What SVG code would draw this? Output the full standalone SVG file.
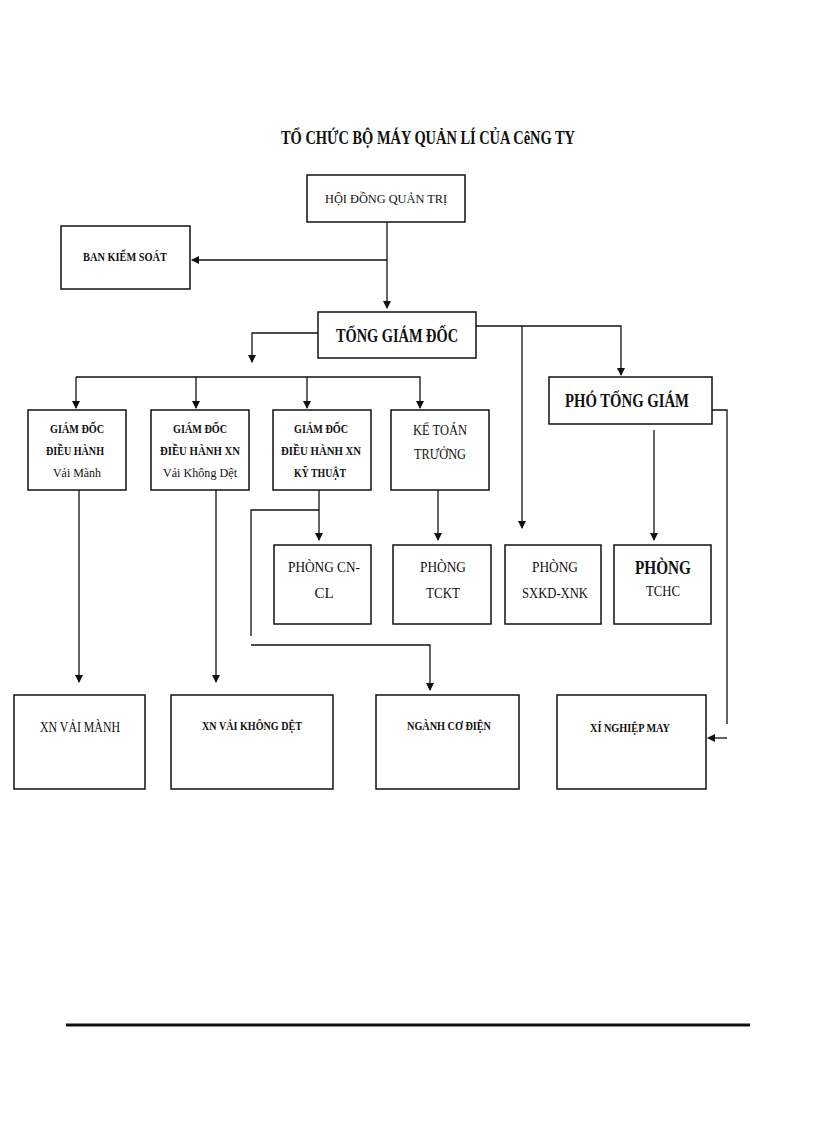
<svg xmlns="http://www.w3.org/2000/svg" width="816" height="1123" viewBox="0 0 816 1123">
<style>
rect{fill:#fff;stroke:#111;stroke-width:1.5}
text{font-family:"Liberation Serif",serif;fill:#111;text-anchor:middle}
.s{font-size:13px}
.b{font-size:19px;font-weight:bold}
#c path{fill:none;stroke:#111;stroke-width:1.3}
</style>
<defs><marker id="a" markerWidth="8" markerHeight="8" refX="7" refY="4" orient="auto" markerUnits="userSpaceOnUse"><path d="M0,0L8,4L0,8Z" fill="#111"/></marker></defs>
<rect width="816" height="1123" style="stroke:none"/>
<text x="428" y="144" class="b" textLength="294" lengthAdjust="spacingAndGlyphs" style="font-size:18px">TỔ CHỨC BỘ MÁY QUẢN LÍ CỦA CêNG TY</text>
<g id="hdqt"><rect x="307" y="175" width="158" height="47"/><text x="386" y="203" class="s" textLength="122" lengthAdjust="spacingAndGlyphs">HỘI ĐỒNG QUẢN TRỊ</text></g>
<g id="bks"><rect x="61" y="226" width="129" height="63"/><text x="125" y="261" class="s" font-weight="bold" textLength="84" lengthAdjust="spacingAndGlyphs">BAN KIỂM  SOÁT</text></g>
<g id="tgd"><rect x="318" y="312" width="158" height="46"/><text x="397" y="342" class="b" textLength="122" lengthAdjust="spacingAndGlyphs">TỔNG GIÁM ĐỐC</text></g>
<g id="ptg"><rect x="549" y="377" width="163" height="47"/><text x="627" y="407" class="b" textLength="124" lengthAdjust="spacingAndGlyphs">PHÓ TỔNG GIÁM</text></g>
<g id="gd1"><rect x="28" y="410" width="98" height="80"/><text x="77" y="433" class="s" font-weight="bold" textLength="54" lengthAdjust="spacingAndGlyphs">GIÁM  ĐỐC</text><text x="75" y="455" class="s" font-weight="bold" textLength="58" lengthAdjust="spacingAndGlyphs">ĐIỀU HÀNH</text><text x="77" y="477" class="s" textLength="48" lengthAdjust="spacingAndGlyphs">Vải Mành</text></g>
<g id="gd2"><rect x="151" y="410" width="98" height="80"/><text x="200" y="433" class="s" font-weight="bold" textLength="54" lengthAdjust="spacingAndGlyphs">GIÁM  ĐỐC</text><text x="200" y="455" class="s" font-weight="bold" textLength="80" lengthAdjust="spacingAndGlyphs">ĐIỀU  HÀNH  XN</text><text x="200" y="477" class="s" textLength="74" lengthAdjust="spacingAndGlyphs">Vải Không Dệt</text></g>
<g id="gd3"><rect x="273" y="410" width="98" height="80"/><text x="321" y="433" class="s" font-weight="bold" textLength="54" lengthAdjust="spacingAndGlyphs">GIÁM  ĐỐC</text><text x="321" y="455" class="s" font-weight="bold" textLength="80" lengthAdjust="spacingAndGlyphs">ĐIỀU  HÀNH  XN</text><text x="320" y="477" class="s" font-weight="bold" textLength="52" lengthAdjust="spacingAndGlyphs">KỸ  THUẬT</text></g>
<g id="ktt"><rect x="391" y="410" width="98" height="80"/><text x="440" y="435" style="font-size:15px" textLength="54" lengthAdjust="spacingAndGlyphs">KẾ TOÁN</text><text x="440" y="459" style="font-size:15px" textLength="52" lengthAdjust="spacingAndGlyphs">TRƯỞNG</text></g>
<g id="p1"><rect x="274" y="545" width="97" height="79"/><text x="324" y="572" style="font-size:15px" textLength="72" lengthAdjust="spacingAndGlyphs">PHÒNG  CN-</text><text x="324" y="598" style="font-size:15px">CL</text></g>
<g id="p2"><rect x="393" y="545" width="98" height="79"/><text x="443" y="572" style="font-size:15px" textLength="46" lengthAdjust="spacingAndGlyphs">PHÒNG</text><text x="443" y="598" style="font-size:15px" textLength="34" lengthAdjust="spacingAndGlyphs">TCKT</text></g>
<g id="p3"><rect x="505" y="545" width="96" height="79"/><text x="555" y="572" style="font-size:15px" textLength="46" lengthAdjust="spacingAndGlyphs">PHÒNG</text><text x="555" y="598" style="font-size:15px" textLength="66" lengthAdjust="spacingAndGlyphs">SXKD-XNK</text></g>
<g id="p4"><rect x="614" y="545" width="97" height="79"/><text x="663" y="574" style="font-size:19px;font-weight:bold" textLength="56" lengthAdjust="spacingAndGlyphs">PHÒNG</text><text x="663" y="596" style="font-size:15px" textLength="34" lengthAdjust="spacingAndGlyphs">TCHC</text></g>
<g id="x1"><rect x="14" y="695" width="131" height="94"/><text x="80" y="732" style="font-size:14px" textLength="80" lengthAdjust="spacingAndGlyphs">XN VẢI MÀNH</text></g>
<g id="x2"><rect x="171" y="695" width="162" height="94"/><text x="252" y="730" class="s" font-weight="bold" textLength="100" lengthAdjust="spacingAndGlyphs">XN VẢI KHÔNG  DỆT</text></g>
<g id="x3"><rect x="376" y="695" width="143" height="94"/><text x="449" y="730" class="s" font-weight="bold" textLength="84" lengthAdjust="spacingAndGlyphs">NGÀNH  CƠ ĐIỆN</text></g>
<g id="x4"><rect x="557" y="695" width="149" height="94"/><text x="630" y="732" class="s" font-weight="bold" textLength="80" lengthAdjust="spacingAndGlyphs">XÍ NGHIỆP  MAY</text></g>
<g id="c">
<path d="M387,222V308" marker-end="url(#a)"/>
<path d="M387,260H192" marker-end="url(#a)"/>
<path d="M318,333H252V362" marker-end="url(#a)"/>
<path d="M76,377H420V408" marker-end="url(#a)"/>
<path d="M76,377V408" marker-end="url(#a)"/>
<path d="M196,377V408" marker-end="url(#a)"/>
<path d="M307,377V408" marker-end="url(#a)"/>
<path d="M476,326H621V375" marker-end="url(#a)"/>
<path d="M522,326V528" marker-end="url(#a)"/>
<path d="M654,430V540" marker-end="url(#a)"/>
<path d="M712,410H727V724"/>
<path d="M727,738H708" marker-end="url(#a)"/>
<path d="M79,490V682" marker-end="url(#a)"/>
<path d="M216,490V682" marker-end="url(#a)"/>
<path d="M319,490V540" marker-end="url(#a)"/>
<path d="M438,490V540" marker-end="url(#a)"/>
<path d="M319,510H251V636"/>
<path d="M251,645H430V690" marker-end="url(#a)"/>
<path d="M66,1025H750" style="stroke-width:3"/>
</g>
</svg>
